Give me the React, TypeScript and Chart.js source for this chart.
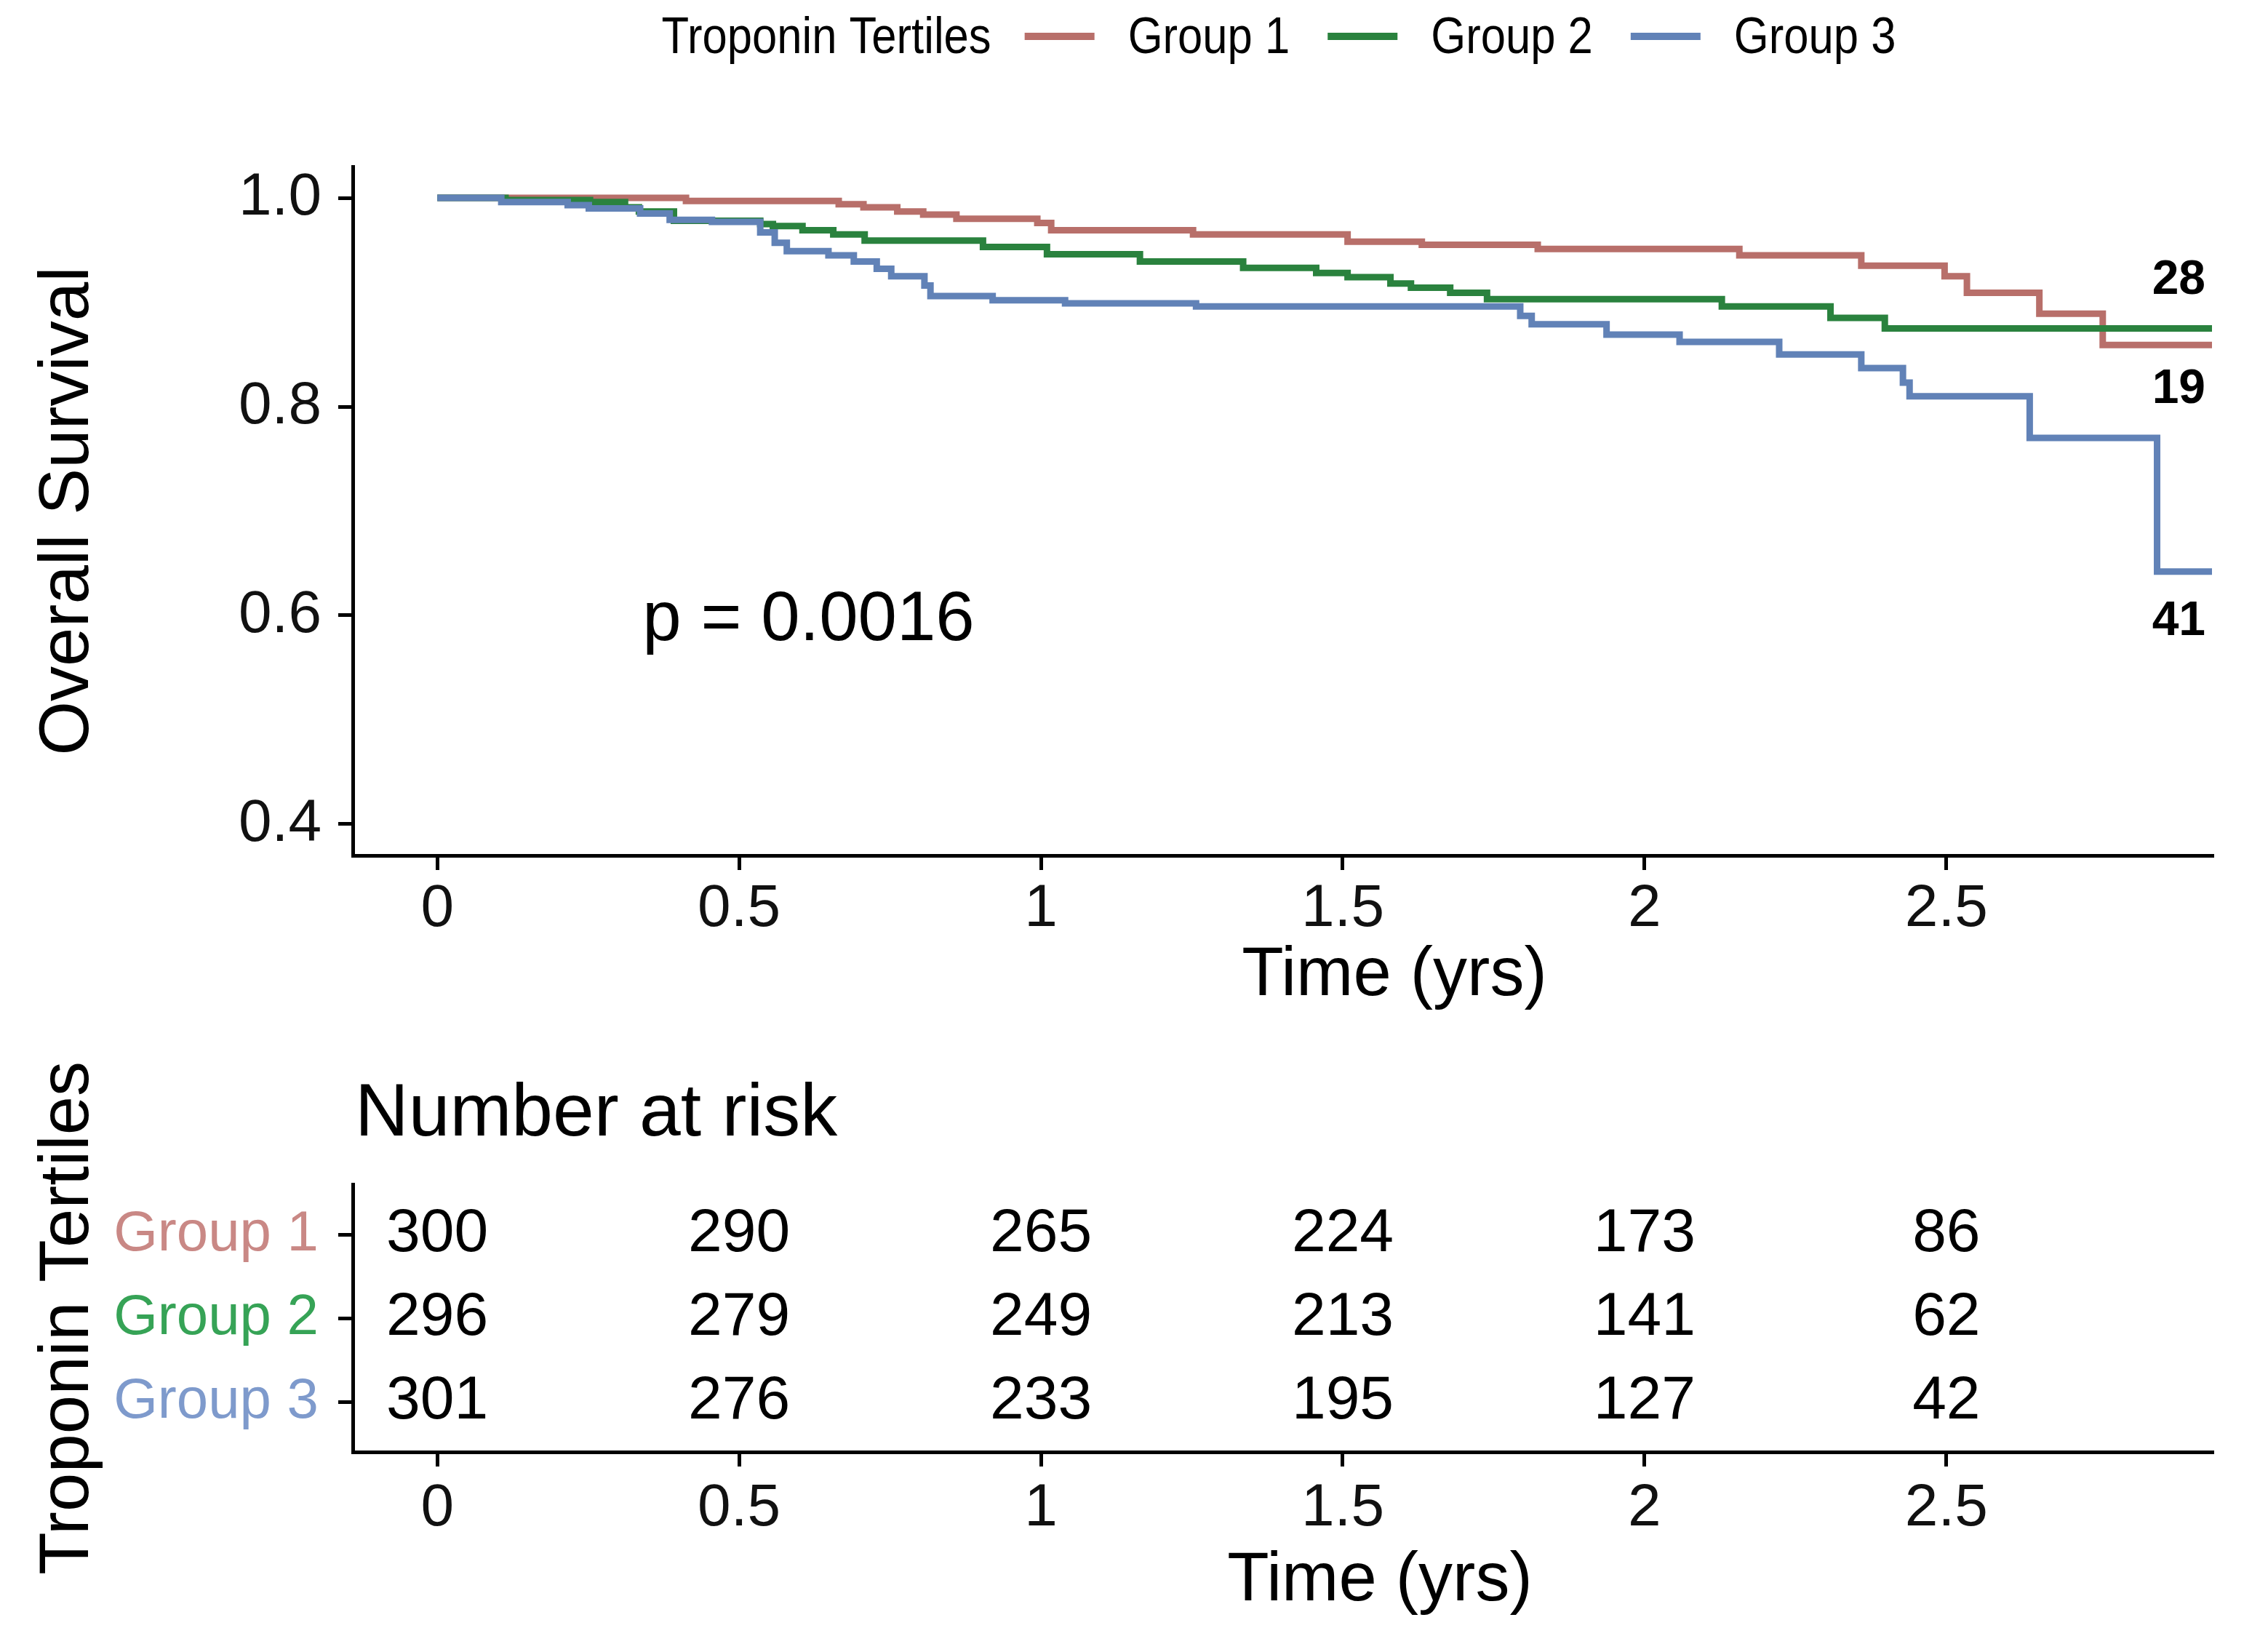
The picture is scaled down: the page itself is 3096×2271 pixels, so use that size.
import React, { useEffect, useRef } from "react";
import { Chart, registerables } from "chart.js";

Chart.register(...registerables);

const FONT = "'Liberation Sans', Arial, Helvetica, sans-serif";

// ---------- data ----------
const groupNames = ["Group 1", "Group 2", "Group 3"];
const legendTitle = "Troponin Tertiles";
const lineColors = ["#B86F6A", "#2A823E", "#6182B7"];
const tickLabelColors = ["#C98885", "#36A356", "#7E9ACC"];

const g1Times = [0, 0.412, 0.665, 0.706, 0.762, 0.805, 0.86, 0.994, 1.017, 1.252, 1.508, 1.631, 1.823, 2.157, 2.359, 2.497, 2.534, 2.654, 2.759, 2.94];
const g1Surv = [1.0, 0.997, 0.994, 0.991, 0.987, 0.984, 0.98, 0.976, 0.969, 0.965, 0.958, 0.955, 0.951, 0.945, 0.935, 0.925, 0.909, 0.889, 0.859, 0.859];

const g2Times = [0, 0.113, 0.253, 0.311, 0.334, 0.392, 0.535, 0.556, 0.605, 0.656, 0.708, 0.904, 1.01, 1.164, 1.335, 1.456, 1.508, 1.579, 1.613, 1.678, 1.739, 2.128, 2.308, 2.398, 2.94];
const g2Surv = [1.0, 0.998, 0.996, 0.991, 0.987, 0.978, 0.975, 0.973, 0.969, 0.965, 0.959, 0.953, 0.946, 0.939, 0.933, 0.928, 0.924, 0.918, 0.914, 0.909, 0.903, 0.896, 0.885, 0.875, 0.875];

const g3Times = [0, 0.106, 0.216, 0.251, 0.336, 0.385, 0.455, 0.535, 0.559, 0.579, 0.648, 0.69, 0.728, 0.752, 0.807, 0.817, 0.92, 1.04, 1.257, 1.794, 1.813, 1.937, 2.058, 2.223, 2.359, 2.428, 2.439, 2.638, 2.849, 2.94];
const g3Surv = [1.0, 0.996, 0.993, 0.99, 0.985, 0.979, 0.977, 0.967, 0.957, 0.949, 0.945, 0.939, 0.932, 0.925, 0.916, 0.906, 0.902, 0.899, 0.896, 0.887, 0.879, 0.869, 0.862, 0.85, 0.837, 0.823, 0.81, 0.77, 0.642, 0.642];

const xTicks = [0, 0.5, 1, 1.5, 2, 2.5];
const yTicks = [0.4, 0.6, 0.8, 1.0];

const riskTimes = [0, 0.5, 1, 1.5, 2, 2.5];
const riskG1 = [300, 290, 265, 224, 173, 86];
const riskG2 = [296, 279, 249, 213, 141, 62];
const riskG3 = [301, 276, 233, 195, 127, 42];

const eventLabels = ["28", "19", "41"];
const eventY = [0.921, 0.816, 0.594];
const eventX = 2.885;

const pValueText = "p = 0.0016";
const pValueX = 0.34;
const pValueY = 0.595;

const yTitle = "Overall Survival";
const xTitle = "Time (yrs)";
const riskTitle = "Number at risk";

// ---------- layout ----------
const W = 3096;
const H = 2271;
const TOP_H = 1420;
const BOT_H = H - TOP_H;
const AREA_LEFT = 485;
const AREA_RIGHT = 3041;

const survTimes = [g1Times, g2Times, g3Times];
const survVals = [g1Surv, g2Surv, g3Surv];
const riskVals = [riskG1, riskG2, riskG3];

function axisCommon(tickFontSize: number) {
  return {
    grid: {
      display: true,
      drawOnChartArea: false,
      drawTicks: true,
      tickLength: 20,
      tickWidth: 5,
      tickColor: "#000",
      color: "#000",
      lineWidth: 5,
    },
    border: { display: true, color: "#000", width: 5 },
    ticks: {
      font: { size: tickFontSize, family: FONT, lineHeight: 1 },
      color: "#111",
      autoSkip: false,
      maxRotation: 0,
      minRotation: 0,
    },
  };
}

const topDecor = {
  id: "topDecor",
  afterDraw(chart: any) {
    const { ctx, chartArea: a, scales } = chart;
    ctx.save();
    ctx.fillStyle = "#000";

    // legend (slightly condensed text, as in the reference)
    const sx = 0.88;
    ctx.font = `70px ${FONT}`;
    ctx.textBaseline = "middle";
    ctx.textAlign = "left";
    const lineLen = 96;
    const gapA = 46;
    const gapB = 52;
    const wTitle = ctx.measureText(legendTitle).width * sx;
    const wLabels = groupNames.map((g) => ctx.measureText(g).width * sx);
    let total = wTitle;
    wLabels.forEach((w, i) => {
      total += gapA + lineLen + gapA + w + (i < wLabels.length - 1 ? gapB - gapA : 0);
    });
    let x = (a.left + a.right) / 2 - 5 - total / 2;
    const ly = 54;
    const drawText = (t: string, tx: number) => {
      ctx.save();
      ctx.translate(tx, ly);
      ctx.scale(sx, 1);
      ctx.fillText(t, 0, 0);
      ctx.restore();
    };
    drawText(legendTitle, x);
    x += wTitle + gapA;
    groupNames.forEach((g, i) => {
      ctx.strokeStyle = lineColors[i];
      ctx.lineWidth = 10;
      ctx.beginPath();
      ctx.moveTo(x, ly - 4);
      ctx.lineTo(x + lineLen, ly - 4);
      ctx.stroke();
      x += lineLen + gapA;
      drawText(g, x);
      x += wLabels[i] + gapB;
    });

    // y title
    ctx.save();
    ctx.translate(95, (a.top + a.bottom) / 2);
    ctx.rotate(-Math.PI / 2);
    ctx.font = `96px ${FONT}`;
    ctx.textAlign = "center";
    ctx.textBaseline = "middle";
    ctx.fillText(yTitle, 0, 0);
    ctx.restore();

    // x title
    ctx.font = `94px ${FONT}`;
    ctx.textAlign = "center";
    ctx.textBaseline = "middle";
    ctx.fillText(xTitle, (a.left + a.right) / 2 + 154, a.bottom + 166);

    // p value
    ctx.font = `96px ${FONT}`;
    ctx.textAlign = "left";
    ctx.fillText(pValueText, scales.x.getPixelForValue(pValueX), scales.y.getPixelForValue(pValueY));

    // event counts
    ctx.font = `bold 66px ${FONT}`;
    ctx.textAlign = "center";
    eventLabels.forEach((t, i) => {
      ctx.fillText(t, scales.x.getPixelForValue(eventX), scales.y.getPixelForValue(eventY[i]));
    });
    ctx.restore();
  },
};

const riskDecor = {
  id: "riskDecor",
  afterDraw(chart: any) {
    const { ctx, chartArea: a } = chart;
    ctx.save();
    ctx.fillStyle = "#000";
    ctx.textBaseline = "middle";

    // numbers at risk (drawn at the dataset element positions)
    ctx.font = `84px ${FONT}`;
    ctx.textAlign = "center";
    chart.data.datasets.forEach((ds: any, i: number) => {
      const meta = chart.getDatasetMeta(i);
      meta.data.forEach((el: any, j: number) => {
        ctx.fillText(String(riskVals[i][j]), el.x, el.y);
      });
    });

    // title
    ctx.font = `102px ${FONT}`;
    ctx.textAlign = "left";
    ctx.fillText(riskTitle, a.left + 3, a.top - 95);

    // x title
    ctx.font = `94px ${FONT}`;
    ctx.textAlign = "center";
    ctx.fillText(xTitle, (a.left + a.right) / 2 + 134, a.bottom + 178);

    // y title
    ctx.save();
    ctx.translate(95, (a.top + a.bottom) / 2);
    ctx.rotate(-Math.PI / 2);
    ctx.font = `96px ${FONT}`;
    ctx.textAlign = "center";
    ctx.fillText(legendTitle, 0, 0);
    ctx.restore();

    ctx.restore();
  },
};

export default function App() {
  const topRef = useRef<HTMLCanvasElement>(null);
  const botRef = useRef<HTMLCanvasElement>(null);

  useEffect(() => {
    document.body.style.margin = "0";
    const xc = axisCommon(82);
    const yc = axisCommon(82);

    const top = new Chart(topRef.current as HTMLCanvasElement, {
      type: "line",
      data: {
        datasets: groupNames.map((g, i) => ({
          label: g,
          data: survTimes[i].map((t, j) => ({ x: t, y: survVals[i][j] })),
          borderColor: lineColors[i],
          backgroundColor: lineColors[i],
          borderWidth: 9,
          pointRadius: 0,
          stepped: "before" as const,
          fill: false,
          order: 3 - i,
          borderCapStyle: "butt" as const,
          borderJoinStyle: "miter" as const,
        })),
      },
      options: {
        animation: false,
        responsive: false,
        devicePixelRatio: 1,
        layout: { padding: { left: 0, top: 229, right: W - AREA_RIGHT, bottom: 0 } },
        plugins: { legend: { display: false }, tooltip: { enabled: false }, title: { display: false } },
        scales: {
          x: {
            type: "linear",
            min: -0.14,
            max: 2.94,
            afterBuildTicks: (s: any) => {
              s.ticks = xTicks.map((v) => ({ value: v }));
            },
            afterFit: (s: any) => {
              s.height = TOP_H - 1176;
            },
            grid: xc.grid,
            border: xc.border,
            ticks: { ...xc.ticks, padding: 13, callback: (v: any) => String(v) },
          },
          y: {
            type: "linear",
            min: 0.37,
            max: 1.03,
            afterBuildTicks: (s: any) => {
              s.ticks = yTicks.map((v) => ({ value: v }));
            },
            afterFit: (s: any) => {
              s.width = AREA_LEFT;
            },
            grid: yc.grid,
            border: yc.border,
            ticks: { ...yc.ticks, padding: 23, callback: (v: any) => Number(v).toFixed(1) },
          },
        },
      } as any,
      plugins: [topDecor],
    });

    const xr = axisCommon(82);
    const yr = axisCommon(78);
    const bot = new Chart(botRef.current as HTMLCanvasElement, {
      type: "scatter",
      data: {
        datasets: groupNames.map((g, i) => ({
          label: g,
          data: riskTimes.map((t) => ({ x: t, y: i + 1 })),
          pointRadius: 0,
          showLine: false,
        })),
      },
      options: {
        animation: false,
        responsive: false,
        devicePixelRatio: 1,
        layout: { padding: { left: 0, top: 1628 - TOP_H, right: W - AREA_RIGHT, bottom: 0 } },
        plugins: { legend: { display: false }, tooltip: { enabled: false }, title: { display: false } },
        scales: {
          x: {
            type: "linear",
            min: -0.14,
            max: 2.94,
            afterBuildTicks: (s: any) => {
              s.ticks = xTicks.map((v) => ({ value: v }));
            },
            afterFit: (s: any) => {
              s.height = H - 1996;
            },
            grid: xr.grid,
            border: xr.border,
            ticks: { ...xr.ticks, padding: 17, callback: (v: any) => String(v) },
          },
          y: {
            type: "linear",
            min: 0.4,
            max: 3.6,
            reverse: true,
            afterBuildTicks: (s: any) => {
              s.ticks = [1, 2, 3].map((v) => ({ value: v }));
            },
            afterFit: (s: any) => {
              s.width = AREA_LEFT;
            },
            grid: yr.grid,
            border: yr.border,
            ticks: {
              ...yr.ticks,
              padding: 27,
              color: (c: any) => tickLabelColors[Math.round(c.tick.value) - 1] || "#000",
              callback: (v: any) => groupNames[Math.round(Number(v)) - 1],
            },
          },
        },
      } as any,
      plugins: [riskDecor],
    });

    return () => {
      top.destroy();
      bot.destroy();
    };
  }, []);

  return (
    <div style={{ position: "absolute", left: 0, top: 0, width: W, height: H, background: "#fff" }}>
      <canvas
        ref={topRef}
        width={W}
        height={TOP_H}
        style={{ position: "absolute", left: 0, top: 0, width: W, height: TOP_H, display: "block" }}
      />
      <canvas
        ref={botRef}
        width={W}
        height={BOT_H}
        style={{ position: "absolute", left: 0, top: TOP_H, width: W, height: BOT_H, display: "block" }}
      />
    </div>
  );
}
